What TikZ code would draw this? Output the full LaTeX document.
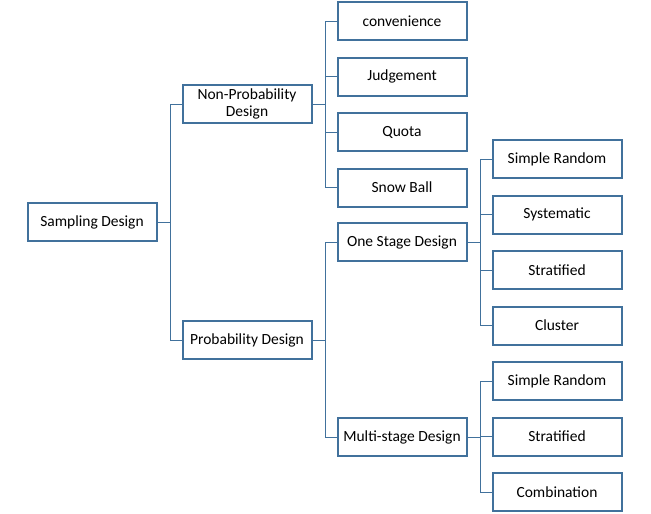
\documentclass[tikz,border=0pt]{standalone}
\usepackage{fontspec}
\setmainfont{Carlito}
\definecolor{boxblue}{HTML}{41719C}
\tikzset{
	box/.style={draw=boxblue,line width=2pt,minimum width=129pt,minimum height=38pt,inner sep=0pt,align=center,font=\fontsize{15.5}{17}\selectfont},
	link/.style={draw=boxblue,line width=1pt},
}
\begin{document}
\begin{tikzpicture}[x=1pt,y=-1pt]
	\useasboundingbox (0,0) rectangle (651,514);
	\path
	(92,222) node[box] (sd) {Sampling Design}          % <<< cot 1
	(247,104) node[box] (np) {Non-Probability\\Design}  % <<< cot 2
	(247,340) node[box] (pd) {Probability Design}
	(402,21) node[box] (cv) {convenience}               % <<< cot 3
	++(0,55.5) node[box] (jd) {Judgement}
	++(0,55.5) node[box] (qt) {Quota}
	++(0,55.5) node[box] (sb) {Snow Ball}
	(402,242) node[box] (os) {One Stage Design}
	(402,437) node[box] (ms) {Multi-stage Design}
	(557,159) node[box] (sr1) {Simple Random}            % <<< cot 4
	++(0,55.5) node[box] (sy) {Systematic}
	++(0,55.5) node[box] (st1) {Stratified}
	++(0,55.5) node[box] (cl) {Cluster}
	(557,381) node[box] (sr2) {Simple Random}
	++(0,55.5) node[box] (st2) {Stratified}
	++(0,55.5) node[box] (cb) {Combination};
	% nhanh
	\draw[link] (sd.east) -- ++(13,0) coordinate (t1);
	\draw[link] (t1) |- (np.west);
	\draw[link] (t1) |- (pd.west);
	\draw[link] (np.east) -- ++(13,0) coordinate (t2);
	\foreach \n in {cv,jd,qt,sb} \draw[link] (t2) |- (\n.west);
	\draw[link] (pd.east) -- ++(13,0) coordinate (t3);
	\foreach \n in {os,ms} \draw[link] (t3) |- (\n.west);
	\draw[link] (os.east) -- ++(13,0) coordinate (t4);
	\foreach \n in {sr1,sy,st1,cl} \draw[link] (t4) |- (\n.west);
	\draw[link] (ms.east) -- ++(13,0) coordinate (t5);
	\foreach \n in {sr2,st2,cb} \draw[link] (t5) |- (\n.west);
\end{tikzpicture}
\end{document}
